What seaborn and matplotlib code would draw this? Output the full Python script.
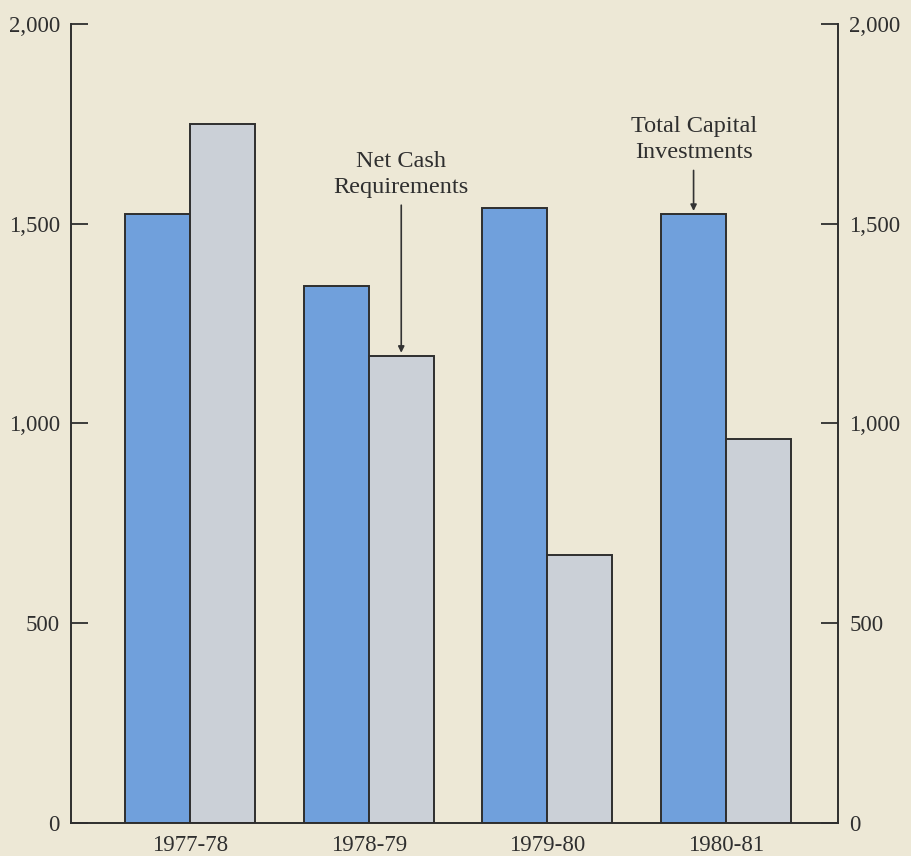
import matplotlib
matplotlib.use("Agg")
import matplotlib.pyplot as plt
import seaborn as sns
import pandas as pd

# Fiscal years and the two series (millions of dollars)
years = ["1977-78", "1978-79", "1979-80", "1980-81"]
total_capital_investments = [1525, 1345, 1540, 1525]
net_cash_requirements = [1750, 1170, 670, 960]
series_names = ["Total Capital Investments", "Net Cash Requirements"]
y_ticks = [0, 500, 1000, 1500, 2000]
y_tick_labels = ["0", "500", "1,000", "1,500", "2,000"]

df = pd.DataFrame({
    "year": years * 2,
    "value": total_capital_investments + net_cash_requirements,
    "series": [series_names[0]] * len(years) + [series_names[1]] * len(years),
})

bg = "#EDE8D6"
sns.set_theme(style="ticks")
plt.rcParams["font.family"] = ["Liberation Serif", "DejaVu Serif"]

fig = plt.figure(figsize=(9.12, 8.56), dpi=100, facecolor=bg)
ax = fig.add_axes([0.0779, 0.0386, 0.8411, 0.9334])
ax.set_facecolor(bg)

sns.barplot(
    data=df, x="year", y="value", hue="series", order=years,
    hue_order=series_names,
    palette={series_names[0]: "#70A0DC", series_names[1]: "#CBD0D7"},
    width=0.727, gap=0, edgecolor="#2E2E2E", linewidth=1.4,
    saturation=1, legend=False, ax=ax,
)

ax.set_xlim(-0.666, 3.627)
ax.set_ylim(0, 2000)
ax.set_xlabel("")
ax.set_ylabel("")

ax.set_yticks(y_ticks)
ax.set_yticklabels(y_tick_labels)
ax.yaxis.set_ticks_position("both")
ax.tick_params(axis="y", which="major", direction="in", length=12.5, width=1.3,
               color="#2E2E2E", labelsize=16.5, labelcolor="#2F2F2F",
               pad=8, labelleft=True, labelright=True)
ax.tick_params(axis="x", length=0, pad=9, labelsize=16.5, labelcolor="#2F2F2F")

for side in ["left", "right", "bottom"]:
    ax.spines[side].set_color("#2E2E2E")
    ax.spines[side].set_linewidth(1.4)
ax.spines["top"].set_visible(False)

arrow = dict(arrowstyle="-|>", color="#333333", lw=1.2, mutation_scale=9,
             shrinkA=3, shrinkB=2)
ax.annotate("Net Cash\nRequirements", xy=(1.182, net_cash_requirements[1]),
            xytext=(1.182, 1565), ha="center", va="bottom", fontsize=17.5,
            color="#2F2F2F", linespacing=1.3, arrowprops=arrow)
ax.annotate("Total Capital\nInvestments", xy=(2.818, total_capital_investments[3]),
            xytext=(2.818, 1652), ha="center", va="bottom", fontsize=17.5,
            color="#2F2F2F", linespacing=1.3, arrowprops=arrow)

fig.savefig("out.png", dpi=100, facecolor=bg)
